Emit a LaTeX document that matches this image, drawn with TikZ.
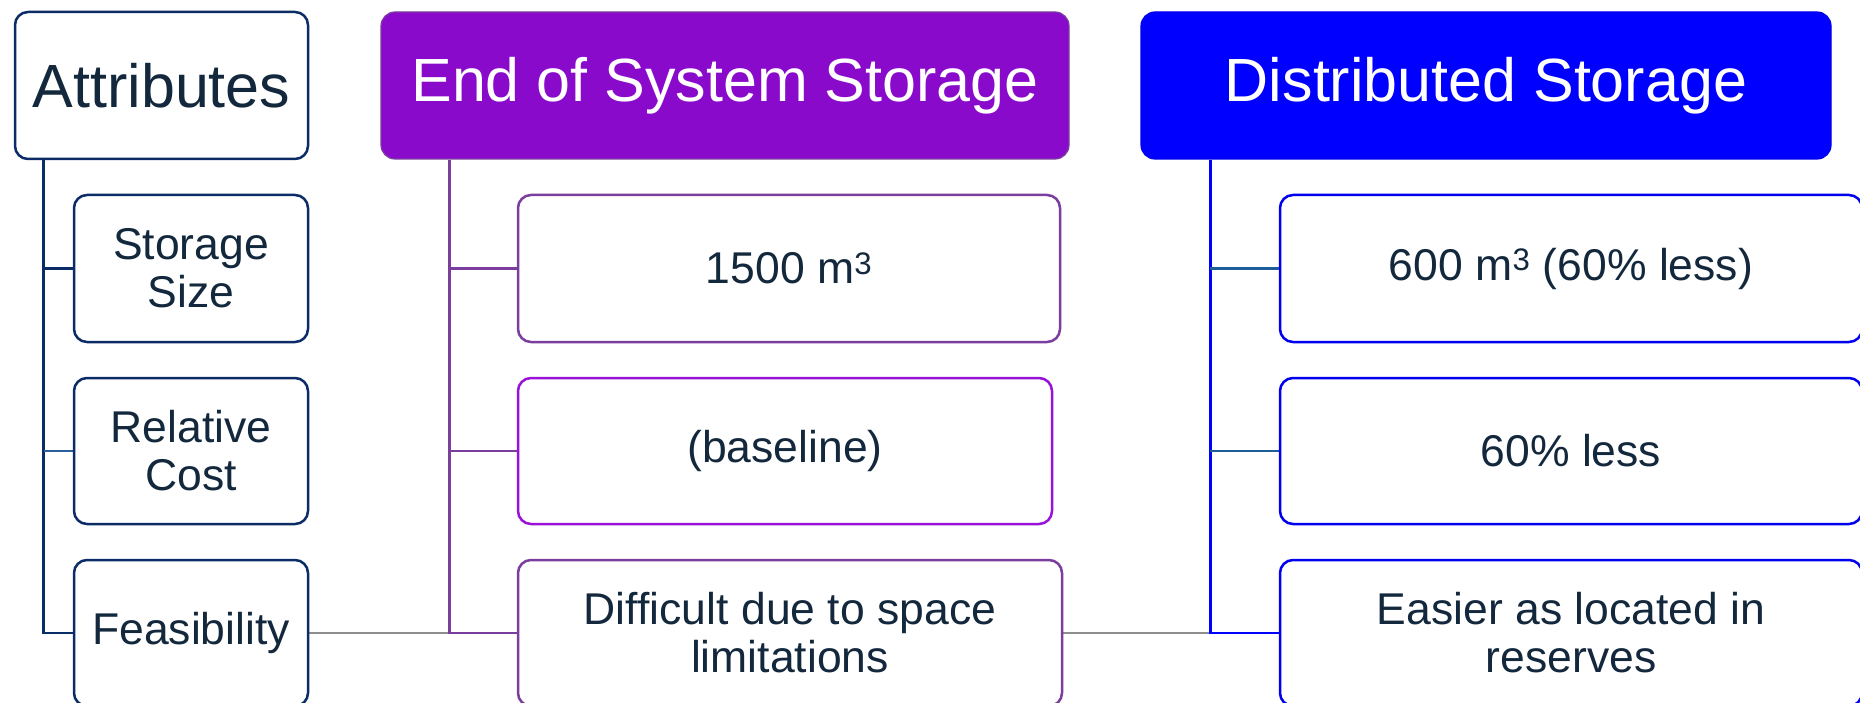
\documentclass[tikz,border=0pt]{standalone}
\usepackage{fontspec}
\setmainfont{Liberation Sans}
\usetikzlibrary{backgrounds}

\definecolor{ink}{HTML}{13283C}
\definecolor{navy}{HTML}{0C2C68}
\definecolor{navylight}{HTML}{2A5E9C}
\definecolor{violet}{HTML}{8A0ACB}
\definecolor{violetedge}{HTML}{7B3E9E}
\definecolor{violetbright}{HTML}{9A12D8}
\definecolor{pureblue}{HTML}{0000FF}
\definecolor{blueedge}{HTML}{0000EE}
\definecolor{tealblue}{HTML}{1D5E9A}
\definecolor{linkgray}{HTML}{8E8E8E}

\begin{document}
\begin{tikzpicture}[x=1pt,y=-1pt,
  cell/.style={draw, rounded corners=13pt, fill=white, line width=2.5pt,
    inner sep=0pt, align=center, text=ink,
    font=\fontsize{44.5}{48}\selectfont},
  headcell/.style={draw, rounded corners=14pt, line width=1.2pt,
    inner sep=0pt, align=center, text=white,
    font=\fontsize{61}{66}\selectfont},
  trunk/.style={line width=2.6pt},
  link/.style={line width=1.4pt, draw=linkgray},
]
\clip (0,0) rectangle (1860,703);
\useasboundingbox (0,0) rectangle (1860,703);

% attribute column
\node[cell, draw=navy, minimum width=293, minimum height=147,
      font=\fontsize{61}{66}\selectfont] (attr) at (161.5,85.5) {Attributes};
\node[cell, draw=navy, minimum width=234, minimum height=147] (size) at (191,268.5) {Storage\\Size};
\node[cell, draw=navy, minimum width=234, minimum height=146] (cost) at (191,451) {Relative\\Cost};
\node[cell, draw=navy, minimum width=234, minimum height=146] (feas) at (191,633) {Feasibility};

% end of system storage column
\node[headcell, fill=violet, draw=violetedge, minimum width=688, minimum height=147] (eoss) at (725,85.5) {End of System Storage};
\node[cell, draw=violetedge, minimum width=542, minimum height=147] (e1) at (789,268.5) {1500 m\textsuperscript{3}};
\node[cell, draw=violetbright, minimum width=534, minimum height=146] (e2) at (785,451) {(baseline)};
\node[cell, draw=violetedge, minimum width=544, minimum height=146] (e3) at (790,633) {Difficult due to space\\limitations};

% distributed storage column
\node[headcell, fill=pureblue, draw=blueedge, minimum width=690, minimum height=147] (ds) at (1486,85.5) {Distributed Storage};
\node[cell, draw=blueedge, minimum width=582, minimum height=147] (d1) at (1571,268.5) {600 m\textsuperscript{3} (60\% less)};
\node[cell, draw=blueedge, minimum width=582, minimum height=146] (d2) at (1571,451) {60\% less};
\node[cell, draw=blueedge, minimum width=582, minimum height=146] (d3) at (1571,633) {Easier as located in\\reserves};

\coordinate (atop) at ([xshift=30pt]attr.south west);
\coordinate (etop) at ([xshift=69pt]eoss.south west);
\coordinate (dtop) at ([xshift=70pt]ds.south west);

\begin{scope}[on background layer]
  \fill[white] (0,0) rectangle (1860,703);
  % row link across the feasibility row
  \draw[link] (feas.east) -- (dtop |- feas.east);
  % attribute tree
  \draw[trunk, navy] (atop) |- (feas.west);
  \draw[trunk, navy] (atop |- size.west) -- (size.west);
  \draw[trunk, navylight] (atop |- cost.west) -- (cost.west);
  % end of system storage tree
  \draw[trunk, violetedge] (etop) |- (e3.west);
  \draw[trunk, violetedge] (etop |- e1.west) -- (e1.west);
  \draw[trunk, violetedge] (etop |- e2.west) -- (e2.west);
  % distributed storage tree
  \draw[trunk, pureblue] (dtop) |- (d3.west);
  \draw[trunk, tealblue] (dtop |- d1.west) -- (d1.west);
  \draw[trunk, tealblue] (dtop |- d2.west) -- (d2.west);
\end{scope}
\end{tikzpicture}
\end{document}
